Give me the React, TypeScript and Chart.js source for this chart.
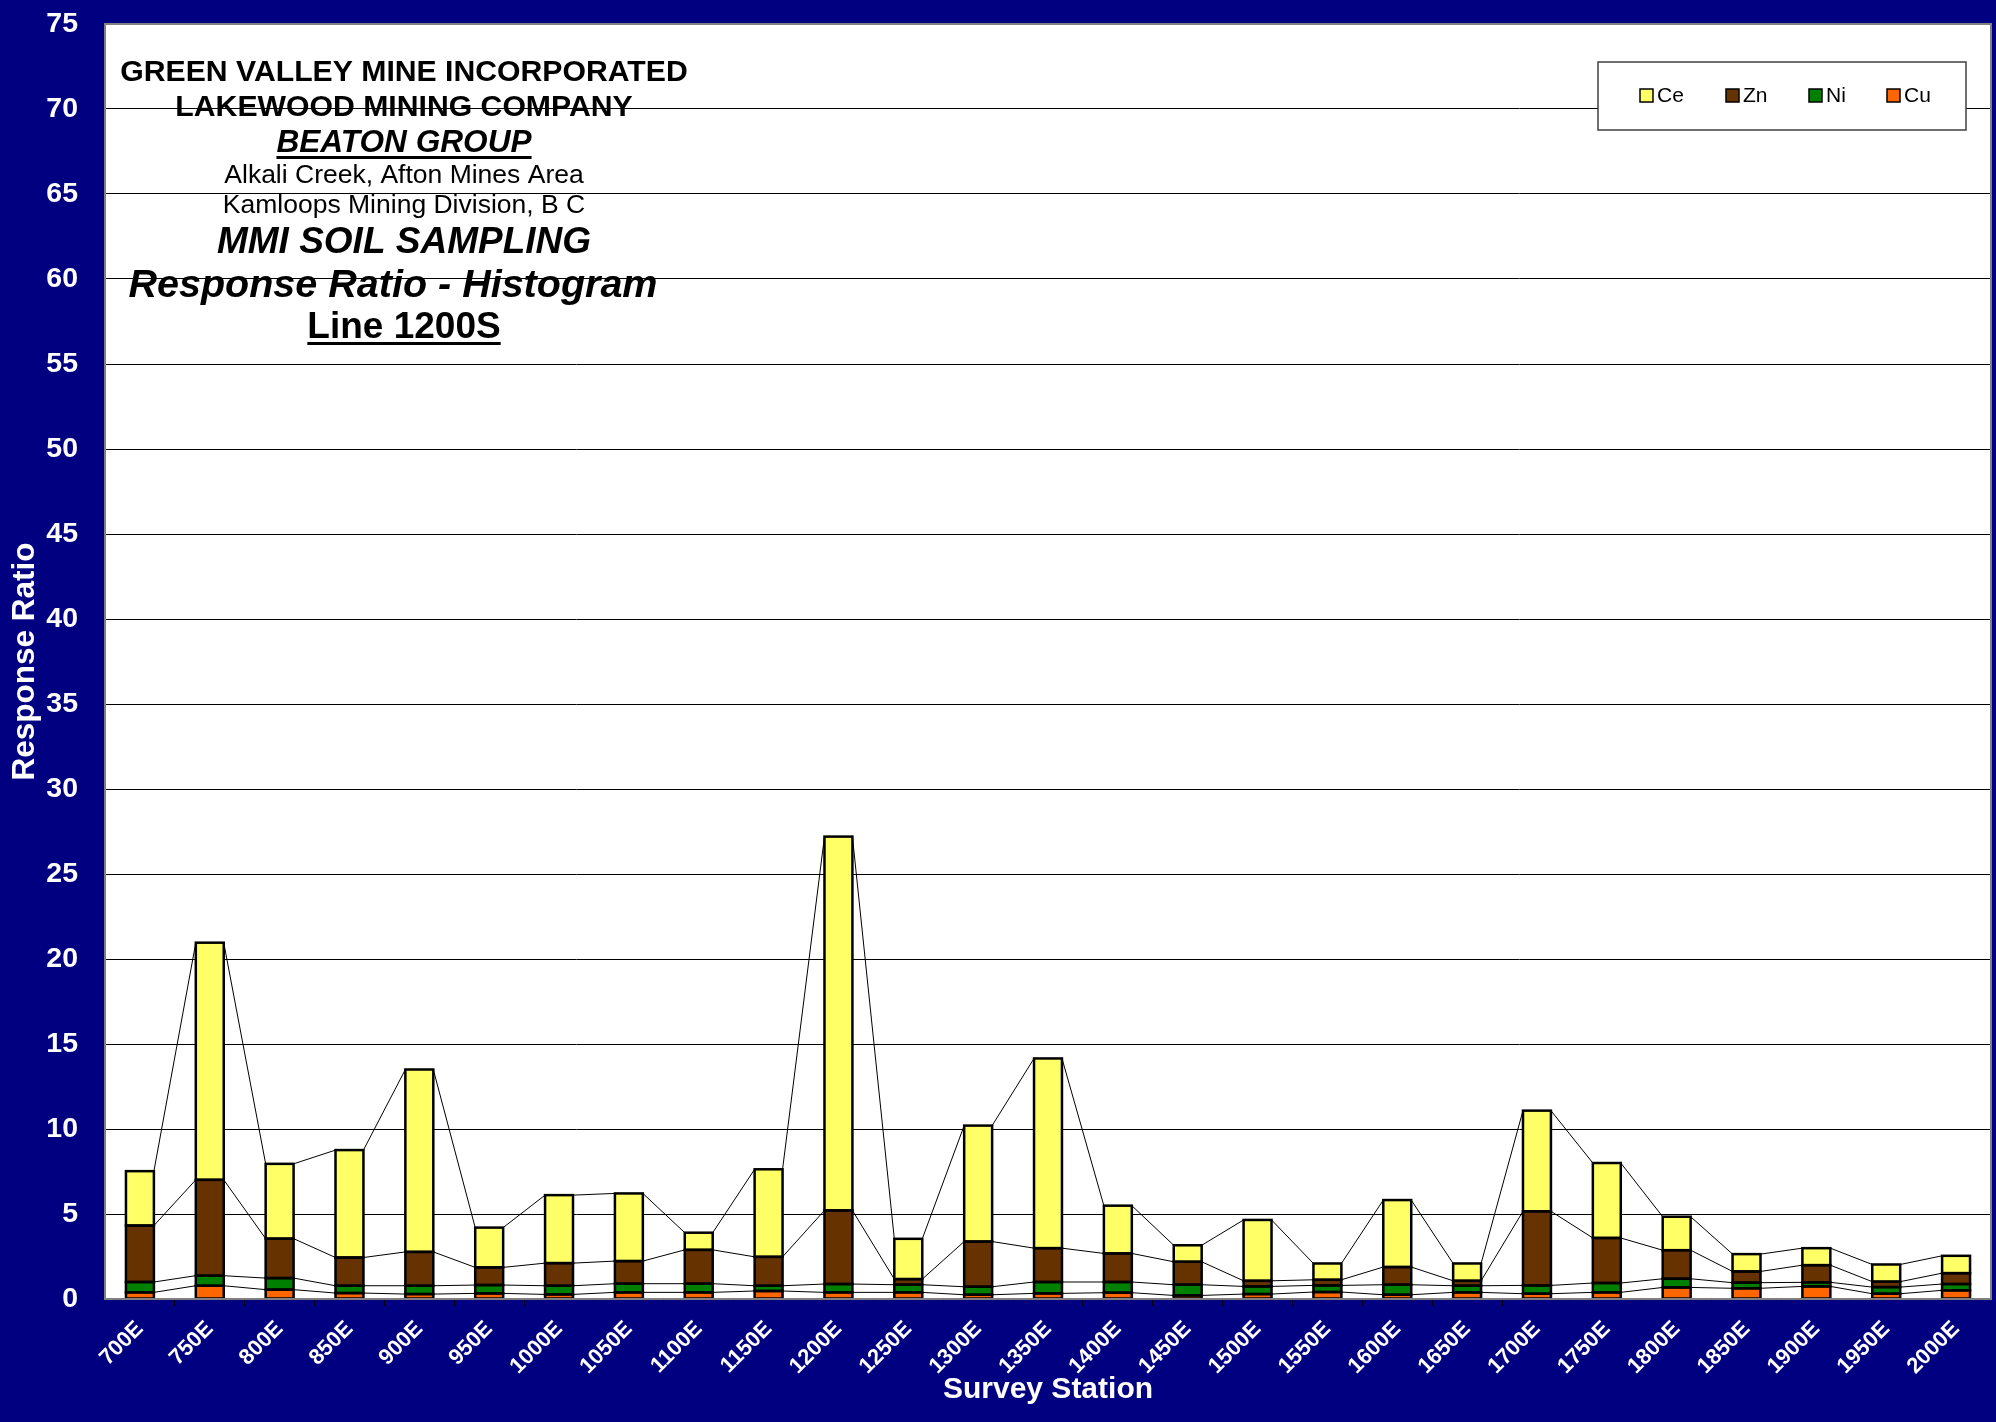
import { useEffect, useRef } from "react";
import { Chart, registerables } from "chart.js";

Chart.register(...registerables);

const FONT = "'Liberation Sans', Arial, Helvetica, sans-serif";

const stations = [
  "700E", "750E", "800E", "850E", "900E", "950E", "1000E", "1050E", "1100E",
  "1150E", "1200E", "1250E", "1300E", "1350E", "1400E", "1450E", "1500E",
  "1550E", "1600E", "1650E", "1700E", "1750E", "1800E", "1850E", "1900E",
  "1950E", "2000E",
];

const cu = [0.39, 0.78, 0.55, 0.35, 0.29, 0.33, 0.27, 0.39, 0.39, 0.47, 0.39, 0.39, 0.25, 0.33, 0.37, 0.21, 0.29, 0.41, 0.25, 0.39, 0.31, 0.39, 0.68, 0.63, 0.74, 0.31, 0.51];
const ni = [0.61, 0.59, 0.68, 0.43, 0.49, 0.49, 0.51, 0.51, 0.51, 0.31, 0.49, 0.45, 0.47, 0.67, 0.63, 0.63, 0.45, 0.39, 0.59, 0.39, 0.49, 0.55, 0.51, 0.33, 0.24, 0.39, 0.37];
const zn = [3.32, 5.64, 2.32, 1.66, 1.99, 1.04, 1.33, 1.33, 1.99, 1.7, 4.33, 0.33, 2.66, 1.99, 1.68, 1.35, 0.33, 0.33, 1.04, 0.29, 4.36, 2.65, 1.68, 0.66, 1.01, 0.32, 0.64];
const ce = [3.2, 13.95, 4.4, 6.32, 10.73, 2.34, 4.0, 3.98, 1.01, 5.15, 21.99, 2.37, 6.82, 11.16, 2.81, 0.97, 3.58, 0.96, 3.94, 1.02, 5.92, 4.41, 1.97, 1.02, 1.0, 1.01, 1.02];

const yMin = 0;
const yMax = 75;
const yStep = 5;

const seriesNames = ["Cu", "Ni", "Zn", "Ce"];
const seriesColors = ["#FF6600", "#008000", "#663300", "#FFFF66"];
const seriesData = [cu, ni, zn, ce];

const titleLines = [
  { text: "GREEN VALLEY MINE INCORPORATED", style: "bold", size: 30.2, underline: false, dx: 0 },
  { text: "LAKEWOOD MINING COMPANY", style: "bold", size: 30.2, underline: false, dx: 0 },
  { text: "BEATON GROUP", style: "italic bold", size: 31.6, underline: true, dx: 0 },
  { text: "Alkali Creek, Afton Mines Area", style: "", size: 26.5, underline: false, dx: 0 },
  { text: "Kamloops Mining Division, B C", style: "", size: 26.5, underline: false, dx: 0 },
  { text: "MMI SOIL SAMPLING", style: "italic bold", size: 37, underline: false, dx: 0 },
  { text: "Response Ratio - Histogram", style: "italic bold", size: 39.5, underline: false, dx: -11 },
  { text: "Line 1200S", style: "bold", size: 37, underline: true, dx: 0 },
];
const titleBaselines = [81, 116, 152, 183, 213, 253, 297, 338];

const decorPlugin = {
  id: "decor",
  beforeDraw(chart: any) {
    const { ctx, chartArea: a } = chart;
    ctx.save();
    ctx.fillStyle = "#000080";
    ctx.fillRect(0, 0, chart.width, chart.height);
    ctx.fillStyle = "#FFFFFF";
    ctx.fillRect(a.left, a.top, a.right - a.left, a.bottom - a.top);
    ctx.restore();
  },
  afterDatasetsDraw(chart: any) {
    const { ctx, chartArea: a } = chart;
    ctx.save();
    // series lines
    ctx.strokeStyle = "#000000";
    ctx.lineWidth = 1;
    chart.data.datasets.forEach((_: any, di: number) => {
      const els = chart.getDatasetMeta(di).data;
      ctx.beginPath();
      for (let i = 0; i < els.length - 1; i++) {
        const e1 = els[i];
        const e2 = els[i + 1];
        ctx.moveTo(e1.x + e1.width / 2, e1.y);
        ctx.lineTo(e2.x - e2.width / 2, e2.y);
      }
      ctx.stroke();
    });
    // centered bar outlines (Excel style)
    ctx.lineWidth = 2.5;
    ctx.strokeStyle = "#000000";
    chart.data.datasets.forEach((_: any, di: number) => {
      const els = chart.getDatasetMeta(di).data;
      els.forEach((e: any) => {
        ctx.strokeRect(e.x - e.width / 2, e.y, e.width, e.base - e.y);
      });
    });
    ctx.strokeStyle = "#808080";
    ctx.lineWidth = 2;
    ctx.strokeRect(a.left, a.top, a.right - a.left, a.bottom - a.top);
    ctx.restore();
  },
  afterDraw(chart: any) {
    const { ctx } = chart;
    ctx.save();
    const lx = 1598, ly = 62, lw = 368, lh = 68;
    ctx.fillStyle = "#FFFFFF";
    ctx.fillRect(lx, ly, lw, lh);
    ctx.strokeStyle = "#404040";
    ctx.lineWidth = 1.5;
    ctx.strokeRect(lx, ly, lw, lh);
    const itemX = [1640, 1726, 1809, 1887];
    const order = [3, 2, 1, 0];
    ctx.font = `21px ${FONT}`;
    ctx.textBaseline = "middle";
    ctx.textAlign = "left";
    order.forEach((si, k) => {
      const x = itemX[k];
      ctx.fillStyle = seriesColors[si];
      ctx.fillRect(x, 89, 13, 13);
      ctx.strokeStyle = "#000000";
      ctx.lineWidth = 1.5;
      ctx.strokeRect(x, 89, 13, 13);
      ctx.fillStyle = "#000000";
      ctx.fillText(seriesNames[si], x + 17, 96);
    });
    const cx = 404;
    ctx.textAlign = "center";
    ctx.textBaseline = "alphabetic";
    ctx.fillStyle = "#000000";
    titleLines.forEach((ln, i) => {
      ctx.font = `${ln.style} ${ln.size}px ${FONT}`.trim();
      const y = titleBaselines[i];
      const x = cx + ln.dx;
      ctx.fillText(ln.text, x, y);
      if (ln.underline) {
        const w = ctx.measureText(ln.text).width;
        ctx.fillRect(x - w / 2, y + 4, w, 3);
      }
    });
    ctx.restore();
  },
};

export default function App() {
  const ref = useRef<HTMLCanvasElement>(null);
  useEffect(() => {
    document.body.style.margin = "0";
    const canvas = ref.current!;
    const chart = new Chart(canvas, {
      type: "bar",
      data: {
        labels: stations,
        datasets: seriesData.map((d, i) => ({
          label: seriesNames[i],
          data: d,
          backgroundColor: seriesColors[i],
          borderWidth: 0,
          barPercentage: 0.4,
          categoryPercentage: 1,
        })),
      },
      options: {
        responsive: false,
        animation: false,
        devicePixelRatio: 1,
        layout: { padding: { top: 24, right: 5, left: 0, bottom: 0 } },
        plugins: { legend: { display: false }, tooltip: { enabled: false } },
        scales: {
          x: {
            stacked: true,
            offset: true,
            grid: {
              offset: true,
              drawOnChartArea: false,
              drawTicks: true,
              tickLength: 7,
              color: "#000000",
              lineWidth: 1,
            },
            border: { display: false },
            ticks: {
              color: "#FFFFFF",
              font: { family: FONT, size: 22, weight: "bold" },
              minRotation: 45,
              maxRotation: 45,
              autoSkip: false,
              padding: 10,
            },
            title: {
              display: true,
              text: "Survey Station",
              color: "#FFFFFF",
              font: { family: FONT, size: 30, weight: "bold" },
              padding: { top: 0, bottom: 14 },
            },
            afterFit: (s: any) => {
              s.height = 123;
              s.paddingLeft = 0;
              s.paddingRight = 0;
            },
          },
          y: {
            stacked: true,
            min: yMin,
            max: yMax,
            ticks: {
              stepSize: yStep,
              color: "#FFFFFF",
              font: { family: FONT, size: 28.5, weight: "bold" },
              padding: 27,
            },
            grid: { color: "#000000", lineWidth: 1, drawTicks: false },
            border: { display: false },
            title: {
              display: true,
              text: "Response Ratio",
              color: "#FFFFFF",
              font: { family: FONT, size: 31.5, weight: "bold" },
              padding: { top: 6, bottom: 0 },
            },
            afterFit: (s: any) => {
              s.width = 105;
              s.paddingTop = 0;
              s.paddingBottom = 0;
            },
          },
        },
      } as any,
      plugins: [decorPlugin],
    });
    return () => chart.destroy();
  }, []);
  return (
    <div style={{ width: 1996, height: 1422 }}>
      <canvas ref={ref} width={1996} height={1422} style={{ display: "block" }} />
    </div>
  );
}
